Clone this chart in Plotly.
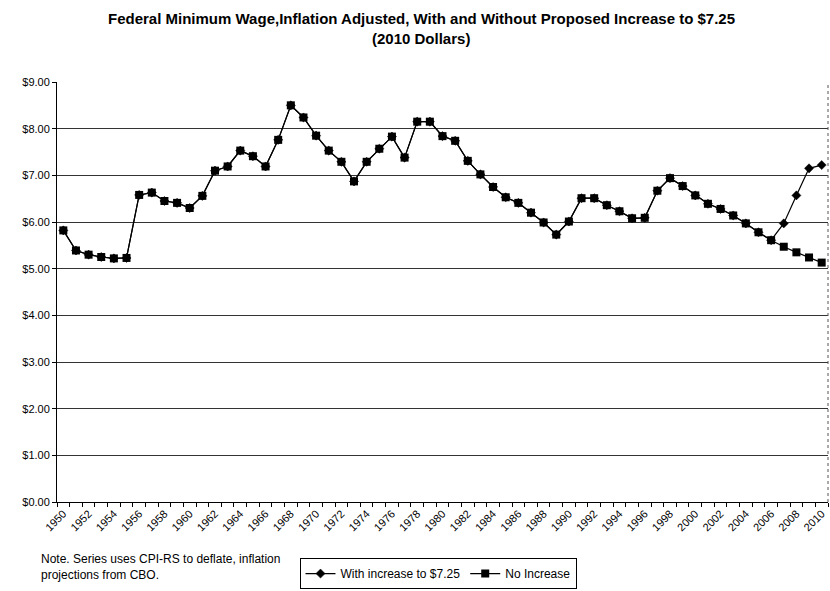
import plotly.graph_objects as go

years = list(range(1950, 2011))

no_increase = [
    5.82, 5.39, 5.30, 5.25, 5.22, 5.23, 6.58, 6.63, 6.45, 6.41,
    6.30, 6.56, 7.10, 7.19, 7.53, 7.41, 7.19, 7.76, 8.50, 8.24,
    7.85, 7.53, 7.29, 6.87, 7.29, 7.57, 7.83, 7.38, 8.15, 8.15,
    7.84, 7.74, 7.31, 7.02, 6.75, 6.53, 6.41, 6.20, 5.99, 5.73,
    6.01, 6.51, 6.51, 6.36, 6.23, 6.08, 6.09, 6.67, 6.94, 6.77,
    6.57, 6.39, 6.28, 6.14, 5.97, 5.78, 5.61, 5.47, 5.35, 5.24,
    5.13,
]

# Same history through 2006, then the proposed increase to $7.25
with_increase = no_increase[:57] + [5.97, 6.57, 7.15, 7.22]

y_ticks = [0, 1, 2, 3, 4, 5, 6, 7, 8, 9]
y_labels = ["$%d.00" % v for v in y_ticks]
x_ticks = list(range(1950, 2011, 2))

title_line1 = "Federal Minimum Wage,Inflation Adjusted, With and Without Proposed Increase to $7.25"
title_line2 = "(2010 Dollars)"
note_text = "Note. Series uses CPI-RS to deflate, inflation<br>projections from CBO."

W, H = 830, 591
L, R, T, B = 57, 2, 82, 82
plot_w = W - L - R
plot_h = H - T - B


def px_x(px):
    return (px - L) / plot_w


def px_y(py):
    return (H - B - py) / plot_h


fig = go.Figure()

# Diamond series drawn first; the square series sits on top where they coincide
fig.add_trace(go.Scatter(
    x=years, y=with_increase, mode="lines+markers",
    name="With increase to $7.25",
    line=dict(color="black", width=1.2),
    marker=dict(symbol="diamond", size=7, color="black",
                line=dict(color="black", width=0.5)),
))
fig.add_trace(go.Scatter(
    x=years, y=no_increase, mode="lines+markers",
    name="No Increase",
    line=dict(color="black", width=1.2),
    marker=dict(symbol="square", size=8, color="black",
                line=dict(color="black", width=0)),
))

fig.update_layout(
    width=W, height=H,
    margin=dict(l=L, r=R, t=T, b=B),
    paper_bgcolor="white", plot_bgcolor="white",
    font=dict(family="Arial, Liberation Sans, sans-serif", size=11, color="black"),
    showlegend=True,
    legend=dict(
        orientation="h", x=px_x(438), y=px_y(566), xanchor="center", yanchor="top",
        bordercolor="black", borderwidth=1, bgcolor="white",
        font=dict(size=12), itemwidth=30, tracegroupgap=0,
    ),
    annotations=[
        dict(text="<b>%s</b>" % title_line1, x=px_x(421), y=px_y(17),
             xref="paper", yref="paper", yanchor="middle",
             showarrow=False, font=dict(size=15)),
        dict(text="<b>%s</b>" % title_line2, x=px_x(421), y=px_y(38),
             xref="paper", yref="paper", yanchor="middle",
             showarrow=False, font=dict(size=15)),
        dict(text=note_text, x=px_x(39), y=px_y(558), xref="paper", yref="paper",
             xanchor="left", yanchor="top", align="left", showarrow=False,
             font=dict(size=12)),
    ],
)

fig.update_xaxes(
    range=[1949.5, 2010.5],
    tickmode="array", tickvals=x_ticks, ticktext=[str(v) for v in x_ticks],
    tickangle=-45, ticks="", showgrid=False, zeroline=False,
    showline=True, linecolor="black", linewidth=1, mirror=False,
    tickfont=dict(size=11),
    minor=dict(ticks="outside", tick0=1949.5, dtick=1, ticklen=4,
               tickcolor="black", showgrid=False),
)
fig.update_yaxes(
    range=[0, 9],
    tickmode="array", tickvals=y_ticks, ticktext=y_labels,
    ticks="outside", ticklen=4, tickcolor="black",
    showgrid=True, gridcolor="#333333", gridwidth=1,
    zeroline=False, showline=True, linecolor="black", linewidth=1,
    tickfont=dict(size=11),
)

# Right-hand border of the plot area
fig.add_shape(type="line", xref="paper", yref="paper", x0=1, x1=1, y0=0, y1=1,
              line=dict(color="#555555", width=1, dash="dot"))

fig.write_html("out.html")
